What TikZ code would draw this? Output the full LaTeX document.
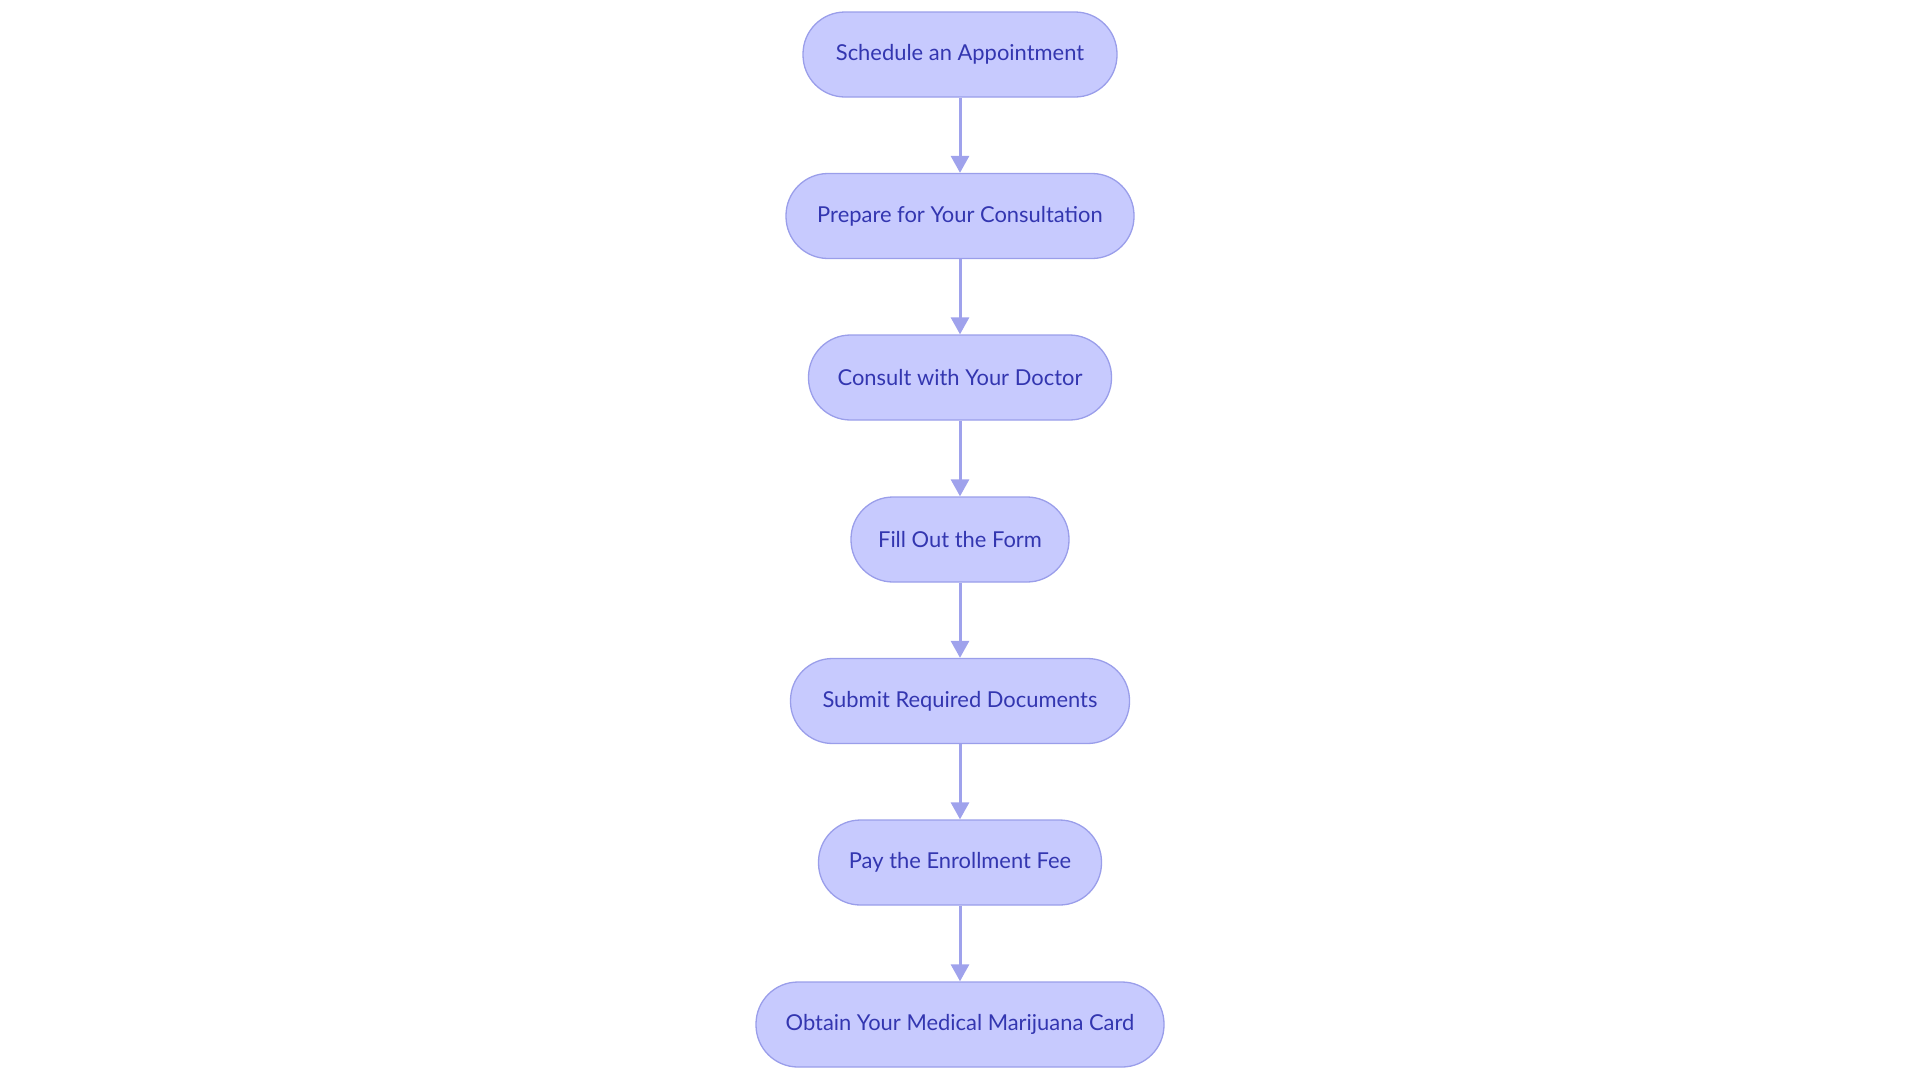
\documentclass[tikz,border=0pt]{standalone}
\usepackage{fontspec}
\setmainfont{Lato}
\usetikzlibrary{arrows.meta}
\definecolor{boxfill}{HTML}{C7CAFE}
\definecolor{boxline}{HTML}{9A9EEA}
\definecolor{boxtext}{HTML}{3336B0}
\definecolor{arrowcol}{HTML}{9FA2EC}
\begin{document}
\begin{tikzpicture}[x=1bp,y=-1bp,
  stepbox/.style={draw=boxline, line width=1.3bp, fill=boxfill, text=boxtext,
    rounded corners=42bp, minimum height=85bp, inner sep=0pt,
    font=\fontsize{22}{26}\selectfont},
  flow/.style={draw=arrowcol, line width=3bp, -{Triangle[length=17bp,width=18bp]}}]
\useasboundingbox (0,0) rectangle (1920,1083);
\node[stepbox, minimum width=314bp] (a) at (960,54.5) {Schedule an Appointment};
\node[stepbox, minimum width=348bp] (b) at (960,216) {Prepare for Your Consultation};
\node[stepbox, minimum width=303bp] (c) at (960,377.5) {Consult with Your Doctor};
\node[stepbox, minimum width=218bp] (d) at (960,539.5) {Fill Out the Form};
\node[stepbox, minimum width=339bp] (e) at (960,701) {Submit Required Documents};
\node[stepbox, minimum width=283bp] (f) at (960,862.5) {Pay the Enrollment Fee};
\node[stepbox, minimum width=408bp] (g) at (960,1024.5) {Obtain Your Medical Marijuana Card};
\draw[flow] (a) -- (b);
\draw[flow] (b) -- (c);
\draw[flow] (c) -- (d);
\draw[flow] (d) -- (e);
\draw[flow] (e) -- (f);
\draw[flow] (f) -- (g);
\end{tikzpicture}
\end{document}
